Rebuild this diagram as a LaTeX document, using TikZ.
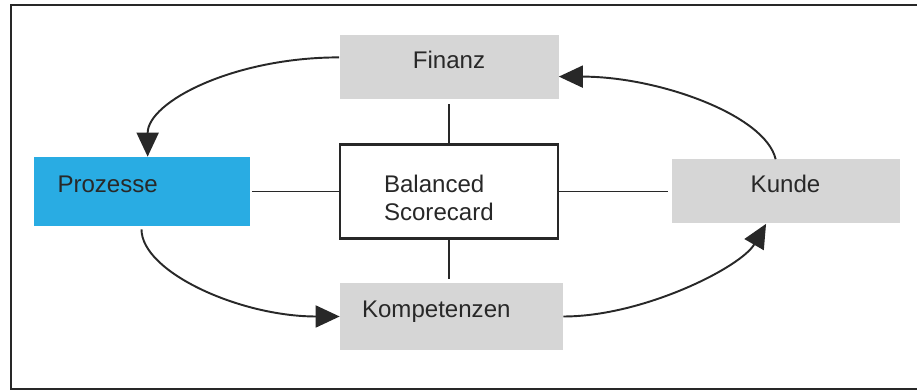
\documentclass[tikz,border=0pt]{standalone}
\usepackage{fontspec}
\setmainfont{Liberation Sans}
\usetikzlibrary{positioning,arrows.meta}
\definecolor{procblue}{RGB}{41,172,227}
\definecolor{boxgray}{RGB}{214,214,214}
\definecolor{inkgray}{RGB}{40,40,40}
\tikzset{
  persp/.style={rectangle, fill=boxgray, text=inkgray, minimum height=1.28cm,
                text depth=0.3cm, font=\fontsize{13.7}{16}\selectfont},
  core/.style={rectangle, draw=inkgray, line width=1.3pt, fill=white, text=inkgray,
               minimum width=4.36cm, minimum height=1.88cm, text width=2.6cm, align=left,
               text depth=0.3cm, font=\fontsize{13.7}{16}\selectfont},
  leftaligned/.style={inner xsep=0pt, align=left},
  link/.style={draw=inkgray, line width=1.1pt},
  cycle/.style={->, draw=inkgray, line width=1.1pt, >={Triangle[length=0.48cm, width=0.44cm]}},
}

\begin{document}
\begin{tikzpicture}
  \useasboundingbox (-8.98,-3.97) rectangle (9.36,3.83);
  \draw[inkgray, line width=1.2pt] (9.4,3.73) -| (-8.76,-3.95) -- (9.4,-3.95);

  \node[core] (bsc) at (0,0) {Balanced\\Scorecard};
  \node[persp, minimum width=4.38cm] (finanz) [above=0.88cm of bsc] {Finanz};
  \node[persp, minimum width=4.46cm, minimum height=1.34cm, leftaligned, text width=3.58cm]
    (kompetenzen) [below=0.86cm of bsc, xshift=0.05cm] {Kompetenzen};
  \node[persp, fill=procblue, minimum width=4.32cm, minimum height=1.38cm, leftaligned, text width=3.36cm]
    (prozesse) [left=1.78cm of bsc] {Prozesse};
  \node[persp, minimum width=4.56cm] (kunde) [right=2.24cm of bsc] {Kunde};

  \draw[link, shorten <=0.1cm] (finanz) -- (bsc);
  \draw[link, shorten >=0.08cm] (bsc.south) -- (bsc.south |- kompetenzen.north);
  \draw[link, shorten <=0.04cm] (prozesse) -- (bsc);
  \draw[link, shorten >=0.06cm] (bsc) -- (kunde);

  \draw[cycle] (finanz.175) to[out=180, in=90, out distance=2.1cm, in distance=1.1cm] (prozesse.80);
  \draw[cycle] ([yshift=-0.06cm]prozesse.south) to[out=-90, in=180, out distance=0.85cm, in distance=2.0cm] (kompetenzen.west);
  \draw[cycle] (kompetenzen.east) to[out=0, in=240, out distance=1.6cm, in distance=1.0cm] (kunde.239);
  \draw[cycle] (kunde.107) to[out=103, in=0, out distance=0.9cm, in distance=2.0cm] (finanz.-5);
\end{tikzpicture}
\end{document}
